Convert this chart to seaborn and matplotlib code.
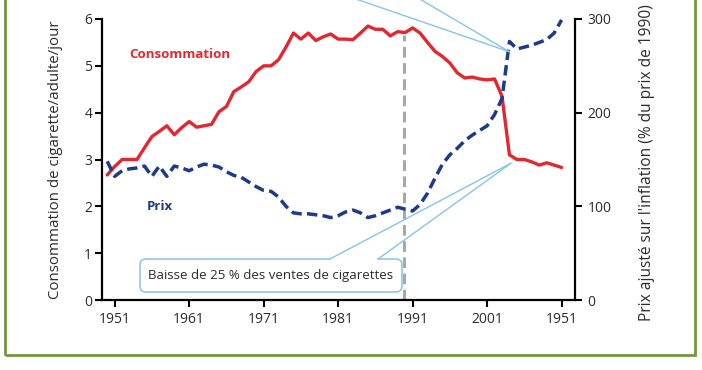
import matplotlib
matplotlib.use("Agg")
import matplotlib.pyplot as plt
import seaborn as sns
import pandas as pd
from matplotlib.patches import FancyBboxPatch, Rectangle, ConnectionPatch
from matplotlib.transforms import IdentityTransform

# ---------------- data ----------------
years = list(range(1950, 2012))
consommation = [
    2.67, 2.85, 3.00, 3.00, 3.00, 3.25, 3.49, 3.60, 3.72, 3.53,
    3.68, 3.81, 3.69, 3.72, 3.75, 4.02, 4.13, 4.45, 4.55, 4.66,
    4.88, 5.00, 5.00, 5.13, 5.40, 5.70, 5.57, 5.70, 5.54, 5.62,
    5.68, 5.57, 5.57, 5.56, 5.70, 5.85, 5.78, 5.78, 5.64, 5.73,
    5.71, 5.81, 5.70, 5.50, 5.31, 5.20, 5.06, 4.85, 4.74, 4.76,
    4.72, 4.70, 4.72, 4.35, 3.10, 3.00, 3.00, 2.95, 2.88, 2.93,
    2.88, 2.83,
]
prix = [
    148, 132, 138, 140, 141, 143, 132, 143, 132, 143,
    141, 138, 142, 145, 144, 142, 137, 133, 131, 126,
    121, 117, 116, 110, 100, 93, 92, 92, 91, 90,
    88, 90, 94, 96, 93, 88, 90, 93, 96, 99,
    97, 95, 102, 114, 130, 145, 155, 162, 170, 176,
    181, 186, 198, 215, 276, 268, 270, 272, 275, 278,
    285, 299,
]
x_ticks = [1951, 1961, 1971, 1981, 1991, 2001, 2011]
x_tick_labels = ["1951", "1961", "1971", "1981", "1991", "2001", "1951"]
left_ticks = [0, 1, 2, 3, 4, 5, 6]
right_ticks = [0, 100, 200, 300]
annee_reference = 1989.8
niveau_reference = 5.66
label_conso = "Consommation"
label_prix = "Prix"
ylabel_left = "Consommation de cigarette/adulte/jour"
ylabel_right = "Prix ajusté sur l'inflation (% du prix de 1990)"
note = "Baisse de 25 % des ventes de cigarettes"
note_point = (2004.2, 2.92)      # point on consumption curve
haut_point = (2004.0, 265)       # point on price curve (cropped callout)

# ---------------- style ----------------
RED = "#e4262f"
BLUE = "#1e3a8a"
GRAY = "#a8a8a8"
LBLUE = "#86c5e4"
GREEN = "#72983a"
TXT = "#2b2b2b"

sns.set_theme(style="white")
plt.rcParams["font.family"] = ["Open Sans", "DejaVu Sans"]

W, H = 702, 370
fig = plt.figure(figsize=(W / 100, H / 100), dpi=100)
ax = fig.add_axes([102 / W, 1 - 300 / H, 473 / W, 281 / H])

df = pd.DataFrame({"annee": years, "consommation": consommation, "prix": prix})

sns.lineplot(data=df, x="annee", y="consommation", ax=ax, color=RED,
             linewidth=2.4, zorder=3)
ax2 = ax.twinx()
sns.lineplot(data=df, x="annee", y="prix", ax=ax2, color=BLUE,
             linewidth=2.5, zorder=3)
ax2.lines[0].set_linestyle((0, (3.0, 1.5)))
ax2.lines[0].set_dash_capstyle("butt")

ax.set_xlim(1949.3, 2012.8)
ax.set_ylim(0, 6)
ax2.set_ylim(0, 300)

# reference year line
ax.axvline(annee_reference, ymin=0, ymax=niveau_reference / 6, color=GRAY,
           linewidth=2.2, linestyle=(0, (3.5, 1.8)), zorder=2)

# spines
for a in (ax, ax2):
    for s in a.spines.values():
        s.set_color("black")
        s.set_linewidth(1.6)
ax.spines["top"].set_visible(False)
ax.spines["right"].set_visible(False)
ax2.spines["top"].set_visible(False)
ax2.spines["left"].set_visible(False)
ax2.spines["bottom"].set_visible(False)
ax2.spines["right"].set_visible(True)

ax.set_xticks(x_ticks)
ax.set_xticklabels(x_tick_labels)
ax.set_yticks(left_ticks)
ax.set_yticklabels([str(v) for v in left_ticks])
ax2.set_yticks(right_ticks)
ax2.set_yticklabels([str(v) for v in right_ticks])

ax.tick_params(axis="x", bottom=True, direction="out", length=5, width=1.5,
               pad=3.5, labelsize=10, labelcolor=TXT, color="black")
ax.tick_params(axis="y", left=True, direction="out", length=5, width=1.5,
               pad=2, labelsize=10, labelcolor=TXT, color="black")
ax2.tick_params(axis="y", right=True, direction="out", length=5, width=1.5,
                pad=4, labelsize=10, labelcolor=TXT, color="black")
ax.set_xlabel("")
ax.set_ylabel("")
ax2.set_ylabel("")
ax.grid(False)
ax2.grid(False)

# axis labels
fig.text(56 / W, 1 - 160 / H, ylabel_left, rotation=90, ha="center",
         va="center", fontsize=10.8, color=TXT)
fig.text(647 / W, 1 - 163 / H, ylabel_right, rotation=90, ha="center",
         va="center", fontsize=11.2, color=TXT)

# series labels
ax.text(1959.7, 5.24, label_conso, color=RED, fontsize=9.5, fontweight="bold",
        ha="center", va="center")
ax.text(1957.0, 1.99, label_prix, color=BLUE, fontsize=9.5, fontweight="bold",
        ha="center", va="center")

# callout box (figure pixels)
ident = IdentityTransform()
box = FancyBboxPatch((140, 78), 262, 33, boxstyle="round,pad=0,rounding_size=6",
                     transform=ident, facecolor="white", edgecolor=LBLUE,
                     linewidth=1.1, zorder=4)
fig.add_artist(box)
fig.add_artist(Rectangle((331, 109.3), 46, 3.4, transform=ident,
                         facecolor="white", edgecolor="none", zorder=5))
fig.text(271, 94.5, note, transform=ident, ha="center", va="center",
         fontsize=9.5, color=TXT, zorder=6)
for bx in (330, 378):
    cp = ConnectionPatch(xyA=(bx, 111), coordsA="figure pixels",
                         xyB=note_point, coordsB="data", axesB=ax,
                         color=LBLUE, linewidth=1.0, zorder=5)
    fig.add_artist(cp)

# cropped upper callout lines
for bx in (353, 418):
    cp = ConnectionPatch(xyA=(bx, 372), coordsA="figure pixels",
                         xyB=haut_point, coordsB="data", axesB=ax2,
                         color=LBLUE, linewidth=1.0, zorder=5)
    fig.add_artist(cp)

# green frame
fig.add_artist(Rectangle((5, 15), 690, 400, transform=ident, fill=False,
                         edgecolor=GREEN, linewidth=2.0, zorder=10,
                         clip_on=False))

fig.savefig("out.png", dpi=100)
